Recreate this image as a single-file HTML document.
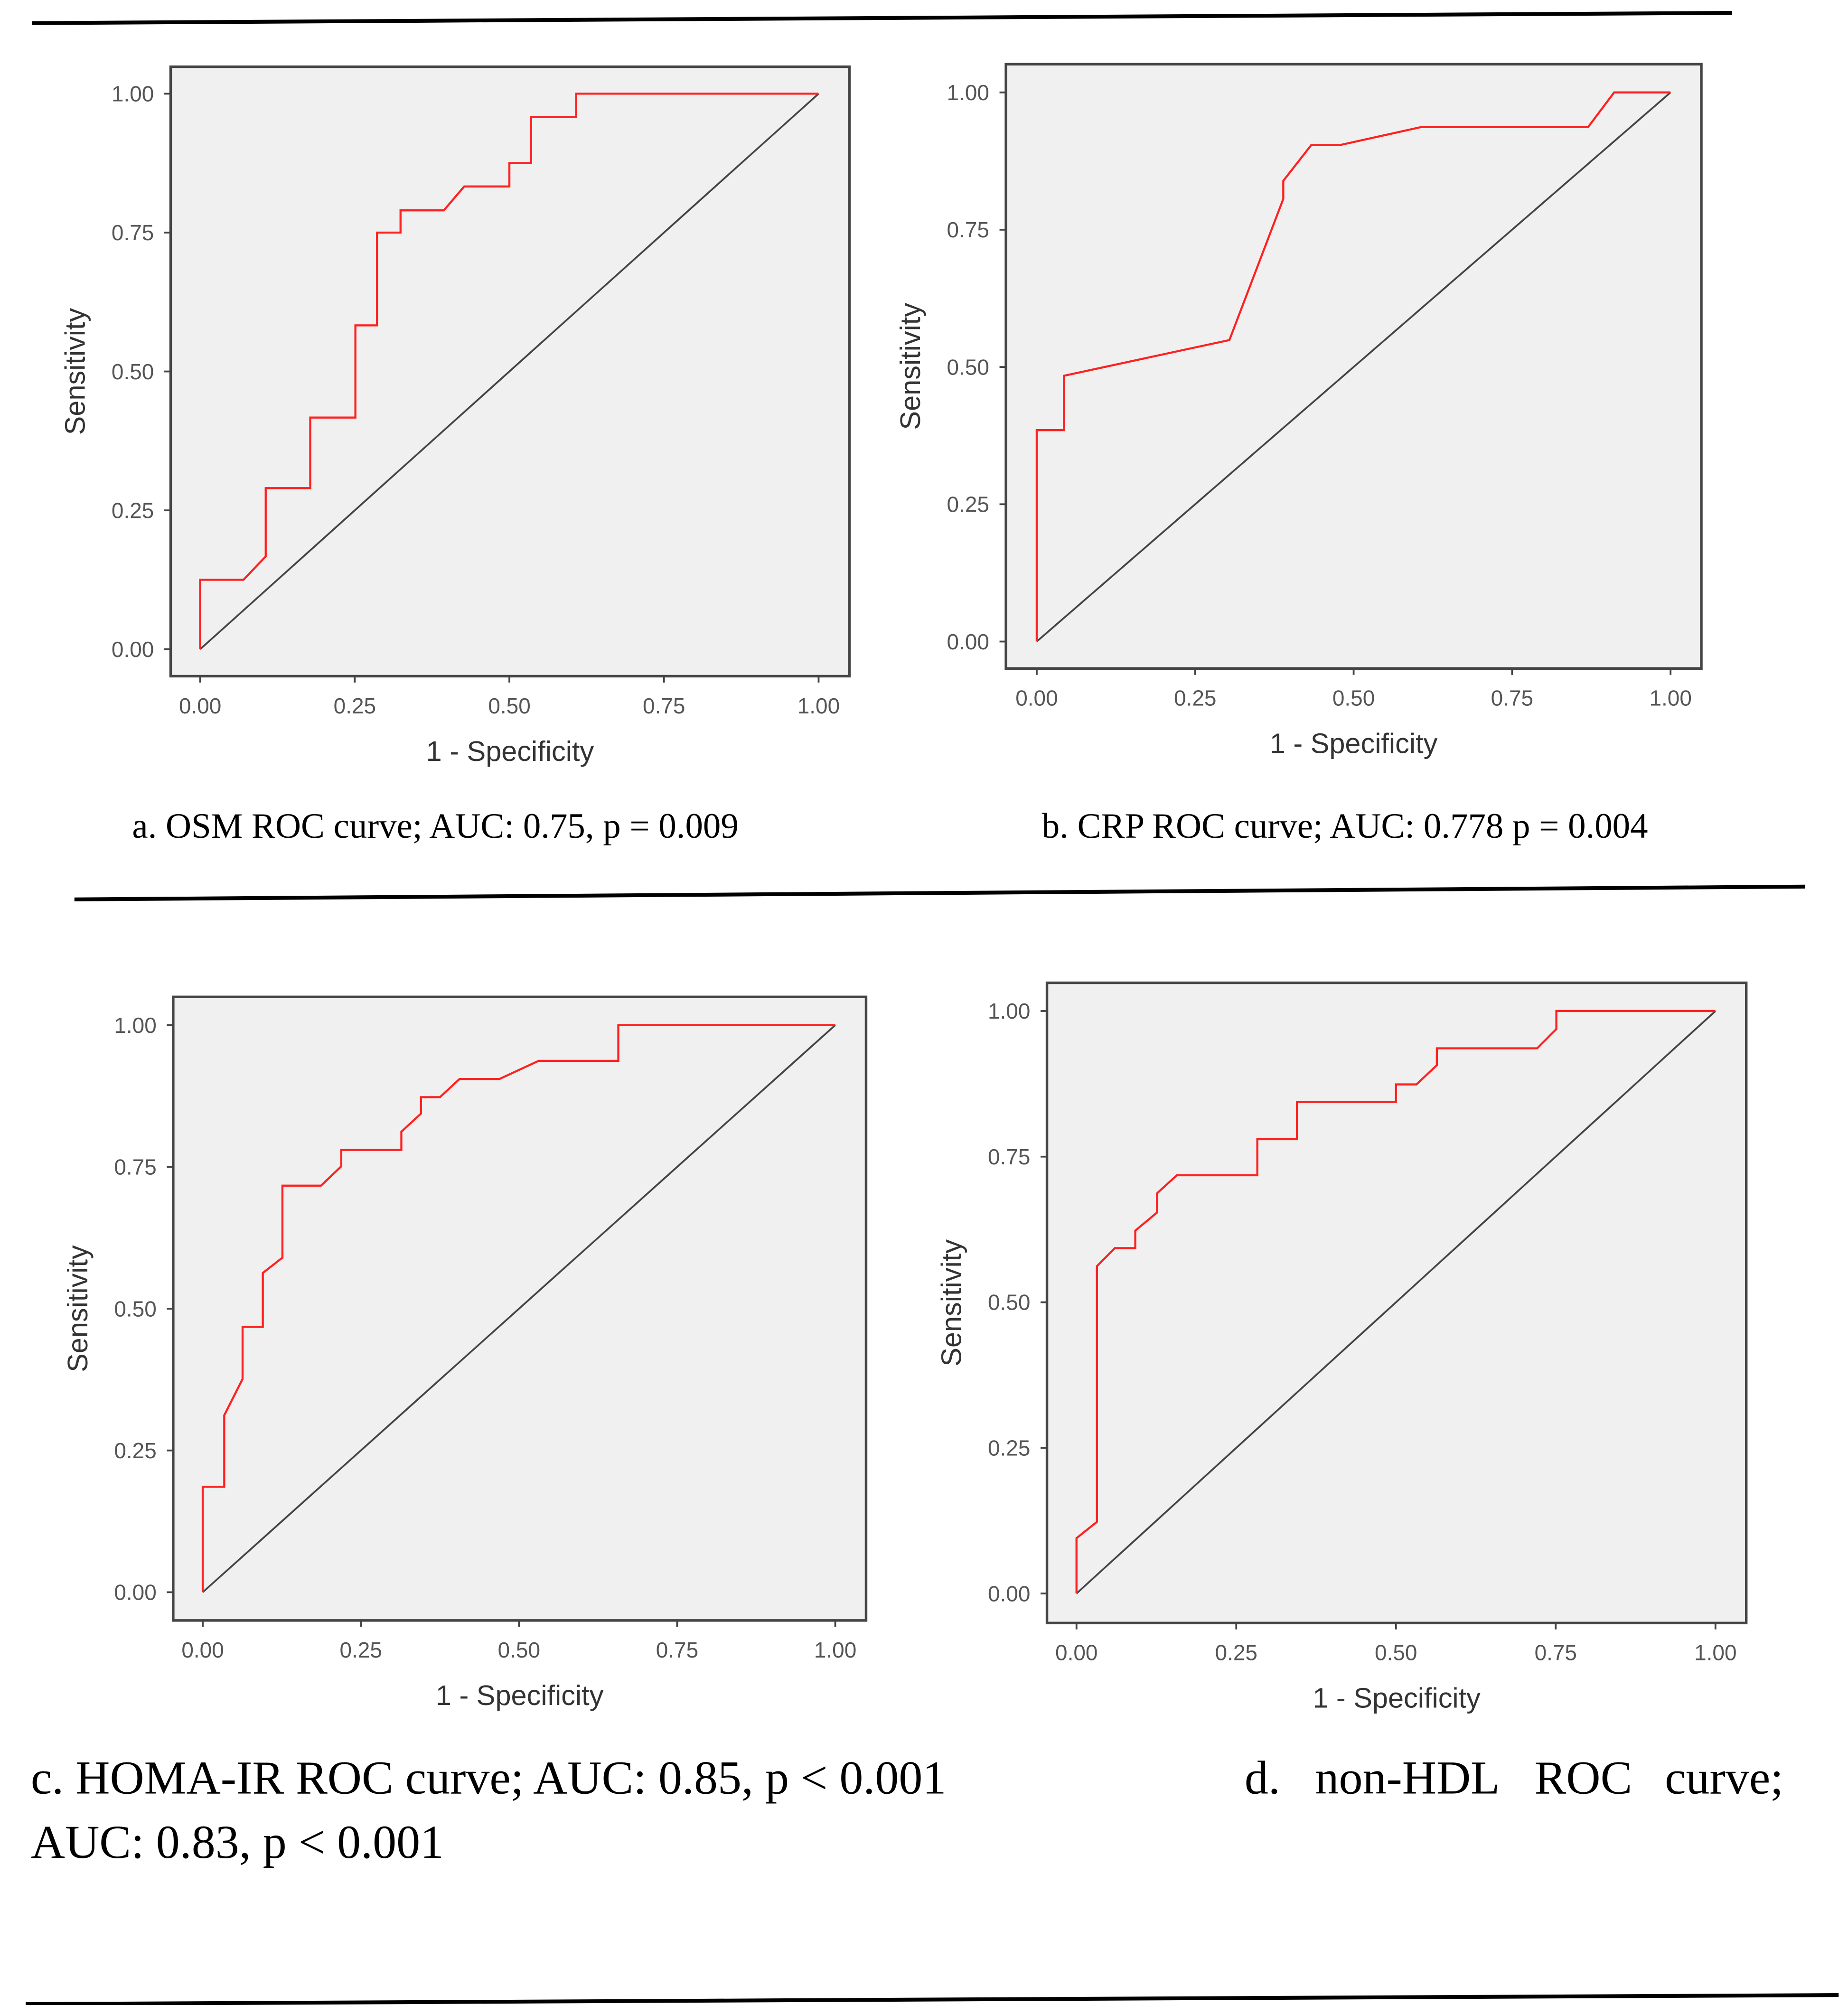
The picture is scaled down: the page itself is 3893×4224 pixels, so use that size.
<!DOCTYPE html>
<html><head><meta charset="utf-8"><style>
html,body{margin:0;padding:0;background:#fff}
svg{display:block}
text{font-family:"Liberation Sans",sans-serif}
.cap{font-family:"Liberation Serif",serif;fill:#000}
</style></head><body>
<svg id="root" width="3893" height="4224" viewBox="0 0 1440.3 1562.7" xmlns="http://www.w3.org/2000/svg">
<line x1="25" y1="18" x2="1350" y2="10" stroke="#000" stroke-width="3"/>
<line x1="58" y1="701" x2="1407" y2="691" stroke="#000" stroke-width="3"/>
<line x1="20" y1="1562" x2="1433" y2="1555" stroke="#000" stroke-width="3"/>
<text class="cap" x="103" y="653" font-size="27.7">a. OSM ROC curve; AUC: 0.75, p = 0.009</text>
<text class="cap" x="812" y="653" font-size="27.7">b. CRP ROC curve; AUC: 0.778 p = 0.004</text>
<text class="cap" x="24" y="1398" font-size="37">c. HOMA-IR ROC curve; AUC: 0.85, p &lt; 0.001</text>
<g class="cap" font-size="37">
<text class="cap" x="970" y="1398">d.</text>
<text class="cap" x="1025" y="1398">non-HDL</text>
<text class="cap" x="1196" y="1398">ROC</text>
<text class="cap" x="1390" y="1398" text-anchor="end">curve;</text>
</g>
<text class="cap" x="24" y="1448" font-size="37">AUC: 0.83, p &lt; 0.001</text>
</svg>
<script>
const ticks=[0,0.25,0.5,0.75,1];
const tickLabels=["0.00","0.25","0.50","0.75","1.00"];
const fprA=[0,0,0.07,0.106,0.106,0.178,0.178,0.251,0.251,0.286,0.286,0.324,0.324,0.394,0.427,0.5,0.5,0.535,0.535,0.608,0.608,1];
const tprA=[0,0.125,0.125,0.167,0.29,0.29,0.417,0.417,0.583,0.583,0.75,0.75,0.79,0.79,0.833,0.833,0.875,0.875,0.958,0.958,1,1];
const fprB=[0,0,0.043,0.043,0.304,0.389,0.389,0.433,0.478,0.607,0.87,0.911,1];
const tprB=[0,0.385,0.385,0.484,0.549,0.806,0.839,0.904,0.904,0.937,0.937,1,1];
const fprC=[0,0,0.034,0.034,0.063,0.063,0.095,0.095,0.126,0.126,0.187,0.219,0.219,0.314,0.314,0.345,0.345,0.375,0.406,0.469,0.531,0.657,0.657,1];
const tprC=[0,0.186,0.186,0.312,0.376,0.468,0.468,0.563,0.59,0.717,0.717,0.751,0.78,0.78,0.812,0.844,0.873,0.873,0.905,0.905,0.937,0.937,1,1];
const fprD=[0,0,0.032,0.032,0.06,0.092,0.092,0.126,0.126,0.157,0.283,0.283,0.345,0.345,0.5,0.5,0.532,0.564,0.564,0.721,0.751,0.751,1];
const tprD=[0,0.095,0.123,0.562,0.593,0.593,0.623,0.654,0.687,0.718,0.718,0.78,0.78,0.844,0.844,0.874,0.874,0.907,0.936,0.936,0.969,1,1];
const NS="http://www.w3.org/2000/svg";
const root=document.getElementById('root');
function el(tag,attrs,parent){const e=document.createElementNS(NS,tag);for(const k in attrs)e.setAttribute(k,attrs[k]);(parent||root).appendChild(e);return e;}
function panel(id,box,x0,x1,y0,y1,fpr,tpr){
  const g=el('g',{});
  
  
  const sx=v=>x0+(x1-x0)*v, sy=v=>y0+(y1-y0)*v;
  const r=el('rect',{x:box[0],y:box[1],width:box[2]-box[0],height:box[3]-box[1],fill:'#f0f0f0',stroke:'#444','stroke-width':2},g);
  
  
  const d=el('line',{x1:sx(0),y1:sy(0),x2:sx(1),y2:sy(1),stroke:'#444','stroke-width':1.4},g);
  
  
  ticks.forEach((t,i)=>{
    el('line',{x1:sx(t),x2:sx(t),y1:box[3],y2:box[3]+5,stroke:'#444','stroke-width':1.4},g);
    const xt=el('text',{x:sx(t),y:box[3]+29,'font-size':17,fill:'#555','text-anchor':'middle'},g);
    xt.textContent=tickLabels[i];
    
    
    el('line',{x1:box[0]-5,x2:box[0],y1:sy(t),y2:sy(t),stroke:'#444','stroke-width':1.4},g);
    const yt=el('text',{x:box[0]-13,y:sy(t)+6,'font-size':17,fill:'#555','text-anchor':'end'},g);
    yt.textContent=tickLabels[i];
    
    
  });
  const xtit=el('text',{x:(box[0]+box[2])/2,y:box[3]+66,'font-size':22,fill:'#333','text-anchor':'middle'},g);
  xtit.textContent='1 - Specificity';
  
  
  const ymid=(box[1]+box[3])/2, yx=box[0]-67;
  const ytit=el('text',{x:yx,y:ymid,'font-size':22,fill:'#333','text-anchor':'middle',transform:`rotate(-90 ${yx} ${ymid})`},g);
  ytit.textContent='Sensitivity';
  
  
  const pts=fpr.map((f,i)=>sx(f)+','+sy(tpr[i])).join(' ');
  const c=el('polyline',{points:pts,fill:'none',stroke:'#ff2020','stroke-width':1.6},g);
  
  
}
panel('a',[133,52,662,527],156,638,506,73,fprA,tprA);
panel('b',[784,50,1326,521],808,1302,500,72,fprB,tprB);
panel('c',[135,777,675,1263],158,651,1241,799,fprC,tprC);
panel('d',[816,766,1361,1265],839,1337,1242,788,fprD,tprD);
</script>
</body></html>
